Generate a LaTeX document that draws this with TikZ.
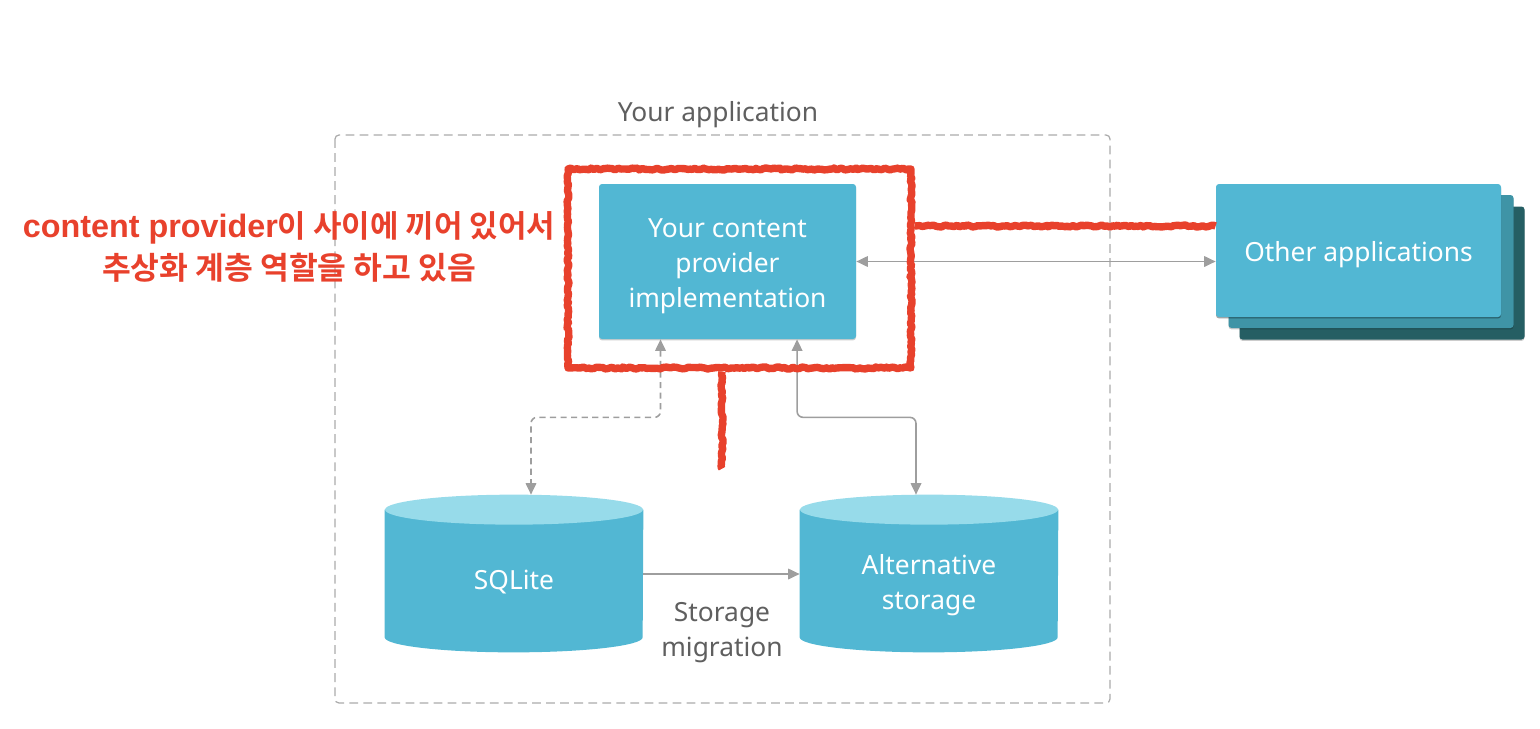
\documentclass[tikz,border=0pt]{standalone}
\usepackage{fontspec}
\setmainfont{Noto Sans}
\newfontfamily\krfont{Noto Sans CJK KR}[BoldFont={* Bold}]
\newfontfamily\latfont{Liberation Sans}
\usetikzlibrary{calc,positioning,arrows.meta,shadows,backgrounds,decorations.pathmorphing}

\definecolor{appblue}{HTML}{52B7D3}
\definecolor{applight}{HTML}{97DBEA}
\definecolor{appmid}{HTML}{3F94A6}
\definecolor{appdark}{HTML}{255E63}
\definecolor{linkgray}{HTML}{9E9E9E}
\definecolor{framegray}{HTML}{ABABAB}
\definecolor{labelgray}{HTML}{5F5F5F}
\definecolor{markred}{HTML}{E8412C}

\tikzset{
  softshadow/.style={drop shadow={shadow xshift=0pt,shadow yshift=-0.8pt,opacity=0.2,fill=black}},
  box/.style={fill=appblue, rounded corners=0.6mm, softshadow},
  boxtext/.style={text=white, align=center, font=\fontsize{15}{19.8}\selectfont},
  stackbox/.style={rounded corners=0.6mm, minimum width=57mm, minimum height=26.6mm, softshadow},
  dbnode/.style={minimum width=51.6mm, minimum height=28.4mm, inner sep=0pt},
  graytext/.style={text=labelgray, align=center, font=\fontsize{15}{20}\selectfont},
  tip/.tip={Triangle[length=6.5pt,width=6pt]},
  link/.style={draw=linkgray, line width=0.9pt, rounded corners=1.2mm},
  redmark/.style={draw=markred, line width=4.2pt, line join=round, decorate,
    decoration={random steps,segment length=1.5pt,amplitude=0.6pt}},
  redtext/.style={text=markred, font=\bfseries},
}

\begin{document}
\begin{tikzpicture}[x=0.2mm,y=-0.2mm]
		\useasboundingbox (0,0) rectangle (1540,728);
		% application frame
		\draw[framegray, dash pattern=on 5pt off 3pt, line width=0.7pt, rounded corners=0.8mm] (335,135) coordinate (fnw) rectangle (1110,703) coordinate (fse);
		\node[graytext] (apptitle) at (718,115) {Your application};
		
		% other applications, stacked
		\node[stackbox, fill=appdark] (oth3) at (1382,273) {};
		\node[stackbox, fill=appmid] (oth2) at (1371,261.5) {};
		\node[stackbox, box] (others) at (1358.5,250.5) {};
		\node[boxtext] (otherstext) at ([yshift=-0.8mm]others.center) {Other applications};
		
		\node[box, minimum width=51.4mm, minimum height=31mm] (cp) at (727.5,261.5) {};
		\node[boxtext] (cptext) at ([yshift=-0.9mm]cp.center) {Your content\\provider\\implementation};
		
		\node[dbnode] (sqlite) at (514,581) {};
		\node[dbnode] (alt) at (929,581) {};
		\foreach \db in {sqlite,alt} {
			\fill[appblue] (\db.north west) -- ($(\db.south west)+(0,-15)$)
				arc[start angle=180,end angle=360,x radius=25.8mm,y radius=3mm]
				-- (\db.north east) -- cycle;
			\fill[applight] (\db.north) ellipse[x radius=25.8mm,y radius=3mm];
		};
		\node[boxtext] (sqltext) at ([yshift=-0.2mm]sqlite.center) {SQLite};
		\node[boxtext] (alttext) at ([yshift=-0.8mm]alt.center) {Alternative\\storage};
		
		% connectors
		\draw[link, tip-tip] (cp.east) -- (cp.east -| others.west);
		\draw[link, dash pattern=on 3.5pt off 2.5pt, tip-tip] ($(cp.south west)!0.24!(cp.south east)$) -- ++(0,78) -| ([xshift=3.4mm,yshift=3mm]sqlite.north);
		\draw[link, tip-tip] ($(cp.south west)!0.77!(cp.south east)$) -- ++(0,78) -| ([xshift=-2.6mm,yshift=3mm]alt.north);
		\draw[link, -tip] ([yshift=1.4mm]sqlite.east) -- ([yshift=1.4mm]alt.west);
		\node[graytext] (migr) at (722,633) {Storage\\migration};
		
		% red marks
		\node[redmark, minimum width=68.6mm, minimum height=39.8mm] (mark) at (739.5,268.5) {};
		\draw[redmark] ([yshift=8.5mm]mark.east) -- ([yshift=8.5mm]mark.east -| others.west);
		\draw[redmark] ([xshift=-3.5mm]mark.south) -- ++(0,97) coordinate (tail);
		\node[redtext] (note1) at (289,228) {{\latfont\fontsize{18.4}{22}\selectfont content provider}{\krfont\fontsize{17.6}{22}\selectfont 이 사이에 끼어 있어서}};
		\node[redtext] (note2) at (289,268) {\krfont\fontsize{17.8}{22}\selectfont 추상화 계층 역할을 하고 있음};
	\end{tikzpicture}
\end{document}
